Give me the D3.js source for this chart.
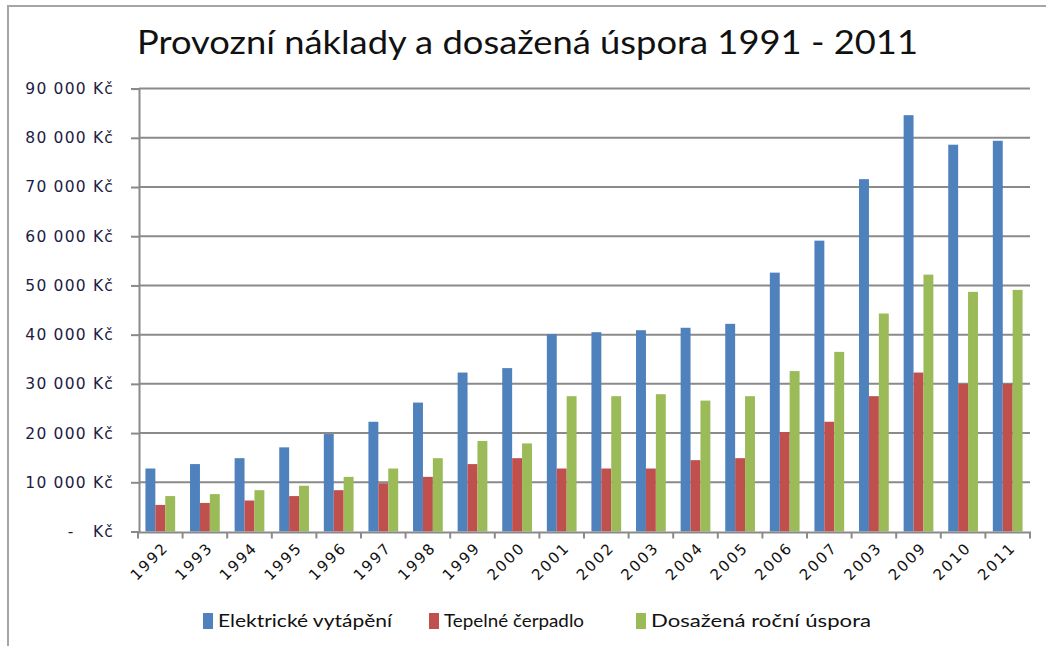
<!DOCTYPE html>
<html>
<head>
<meta charset="utf-8">
<script src="https://cdn.jsdelivr.net/npm/d3@7"></script>
<style>
  body { margin: 0; background: #fff; }
  svg { display: block; }
</style>
</head>
<body>
<div id="chart"></div>
<script>
const width = 1046;
const height = 646;

// data
const years = ["1992", "1993", "1994", "1995", "1996", "1997", "1998", "1999", "2000", "2001",
  "2002", "2003", "2004", "2005", "2006", "2007", "2003", "2009", "2010", "2011"];
const seriesNames = ["Elektrické vytápění", "Tepelné čerpadlo", "Dosažená roční úspora"];
const elektricke = [12800, 13700, 14900, 17100, 19800, 22300, 26200, 32300, 33200, 40100,
  40500, 40900, 41400, 42200, 52600, 59100, 71600, 84600, 78600, 79400];
const cerpadlo = [5400, 5800, 6300, 7200, 8400, 9800, 11100, 13700, 14900, 12800,
  12800, 12800, 14500, 14900, 20200, 22300, 27500, 32300, 30000, 30000];
const uspora = [7200, 7600, 8400, 9300, 11100, 12800, 14900, 18400, 17900, 27500,
  27500, 27900, 26600, 27500, 32600, 36500, 44300, 52200, 48700, 49100];
const yTicks = [0, 10000, 20000, 30000, 40000, 50000, 60000, 70000, 80000, 90000];
const colors = ["#4f81bd", "#c0504d", "#9bbb59"];

const rows = years.map((y, i) => ({ idx: i, year: y, values: [elektricke[i], cerpadlo[i], uspora[i]] }));

const svg = d3.select("#chart").append("svg")
  .attr("width", width)
  .attr("height", height);

svg.append("rect").attr("width", width).attr("height", height).attr("fill", "#fff");

// ramecek
svg.append("rect")
  .attr("x", 8).attr("y", 6)
  .attr("width", width + 20).attr("height", height + 20)
  .attr("fill", "none")
  .attr("stroke", "#a5a5a5")
  .attr("stroke-width", 2);

const plot = { left: 139, right: 1030, top: 88.6, bottom: 531.5 };

const x0 = d3.scaleBand()
  .domain(d3.range(years.length))
  .range([plot.left - 1, plot.right])
  .paddingInner(1 / 3)
  .paddingOuter(1 / 6);

const x1 = d3.scaleBand()
  .domain(d3.range(3))
  .range([0, x0.bandwidth()]);

const y = d3.scaleLinear()
  .domain([0, 90000])
  .range([plot.bottom, plot.top]);

// mrizka
svg.append("g")
  .selectAll("line")
  .data(yTicks.filter(d => d > 0))
  .join("line")
  .attr("x1", plot.left).attr("x2", plot.right)
  .attr("y1", d => y(d)).attr("y2", d => y(d))
  .attr("stroke", "#8a8a8a")
  .attr("stroke-width", 2);

// sloupce
svg.append("g")
  .selectAll("g")
  .data(rows)
  .join("g")
  .attr("transform", d => `translate(${x0(d.idx)},0)`)
  .selectAll("rect")
  .data(d => d.values.map((v, k) => ({ k, v })))
  .join("rect")
  .attr("x", d => x1(d.k))
  .attr("width", x1.bandwidth())
  .attr("y", d => y(d.v))
  .attr("height", d => y(0) - y(d.v))
  .attr("fill", d => colors[d.k]);

// osa Y
const fmt = d3.format(",");
const yAxis = svg.append("g")
  .attr("transform", `translate(${plot.left},0)`)
  .call(d3.axisLeft(y)
    .tickValues(yTicks)
    .tickSize(8)
    .tickPadding(17)
    .tickFormat(d => d === 0 ? "-   Kč" : fmt(d).replace(/,/g, " ") + " Kč"));
yAxis.select(".domain").attr("stroke", "#8a8a8a").attr("stroke-width", 2);
yAxis.selectAll(".tick line").attr("stroke", "#8a8a8a").attr("stroke-width", 2);
yAxis.selectAll(".tick text")
  .attr("fill", "#1c1c44")
  .style("white-space", "pre")
  .style("font-family", "'DejaVu Sans', Verdana, sans-serif")
  .style("font-size", "15.5px")
  .style("letter-spacing", "1.2px");

// osa X
const bottom = svg.append("g");
bottom.append("line")
  .attr("x1", plot.left - 2).attr("x2", plot.right + 1)
  .attr("y1", plot.bottom + 1).attr("y2", plot.bottom + 1)
  .attr("stroke", "#8a8a8a")
  .attr("stroke-width", 2);
const step = x0.step();
bottom.selectAll("line.tick")
  .data(d3.range(years.length + 1))
  .join("line")
  .attr("class", "tick")
  .attr("x1", d => plot.left - 1 + d * step)
  .attr("x2", d => plot.left - 1 + d * step)
  .attr("y1", plot.bottom + 1)
  .attr("y2", plot.bottom + 7)
  .attr("stroke", "#8a8a8a")
  .attr("stroke-width", 2);

bottom.selectAll("text")
  .data(rows)
  .join("text")
  .attr("transform", d => `translate(${plot.left - 1 + (d.idx + 0.5) * step + 9},${plot.bottom + 17}) rotate(-45)`)
  .attr("text-anchor", "end")
  .attr("fill", "#111")
  .style("font-family", "'DejaVu Sans', sans-serif")
  .style("font-size", "15px")
  .style("letter-spacing", "2px")
  .text(d => d.year);

// nadpis
svg.append("text")
  .attr("x", 137)
  .attr("y", 54)
  .attr("textLength", 781)
  .attr("lengthAdjust", "spacingAndGlyphs")
  .attr("fill", "#111")
  .style("font-family", "Lato, 'Open Sans', sans-serif")
  .style("font-size", "32px")
  .text("Provozní náklady a dosažená úspora 1991 - 2011");

// legenda
const legendX = [203, 429, 636];
const legendW = [174, 140, 220];
const legend = svg.append("g")
  .selectAll("g")
  .data(seriesNames)
  .join("g")
  .attr("transform", (d, i) => `translate(${legendX[i]},613)`);
legend.append("rect")
  .attr("width", 10).attr("height", 16)
  .attr("fill", (d, i) => colors[i]);
legend.append("text")
  .attr("x", 15)
  .attr("y", 14)
  .attr("textLength", (d, i) => legendW[i])
  .attr("lengthAdjust", "spacingAndGlyphs")
  .attr("fill", "#111")
  .style("font-family", "Lato, 'Open Sans', sans-serif")
  .style("font-size", "18px")
  .text(d => d);
</script>
</body>
</html>
